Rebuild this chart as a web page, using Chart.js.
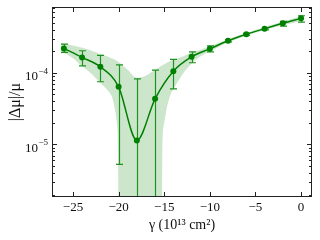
<!DOCTYPE html>
<html>
<head>
<meta charset="utf-8">
<script src="https://cdn.jsdelivr.net/npm/chart.js@4.4.1/dist/chart.umd.min.js"></script>
<style>
  html, body { margin: 0; padding: 0; background: #fff; }
  canvas { display: block; }
</style>
</head>
<body>
<canvas id="chart" width="320" height="240"></canvas>
<script>
        // Messpunkte
        const gammaVals = [-26, -24, -22, -20, -18, -16, -14, -12, -10, -8, -6, -4, -2, 0];
        const dmuVals   = [2.19e-4, 1.64e-4, 1.21e-4, 6.37e-5, 1.14e-5, 4.34e-5, 1.05e-4, 1.67e-4, 2.16e-4, 2.80e-4, 3.44e-4, 4.12e-4, 4.90e-4, 5.75e-4];
        const errHigh   = [2.51e-4, 2.03e-4, 1.75e-4, 1.29e-4, 8.25e-5, 1.09e-4, 1.54e-4, 1.96e-4, 2.38e-4, 2.90e-4, 3.55e-4, 4.28e-4, 5.23e-4, 6.25e-4];
        const errLow    = [1.93e-4, 1.25e-4, 7.5e-5, 5.26e-6, 1e-8, 1e-8, 5.98e-5, 1.38e-4, 1.96e-4, 2.70e-4, 3.33e-4, 3.96e-4, 4.49e-4, 5.10e-4];

        // Konfidenzband (Ober- und Unterkante)
        const bandX     = [-26.3, -25, -24, -23, -22, -21, -20.7, -20.4, -20.2, -20.05, -19.95, -19, -18, -17, -16, -15.35, -15.2, -15.0, -14.7, -14.3, -14, -13, -12, -11, -10, -8, -6, -4, -2, 0, 0.3];
        const bandUpper = [2.6e-4, 2.4e-4, 2.23e-4, 2.05e-4, 1.83e-4, 1.65e-4, 1.58e-4, 1.52e-4, 1.46e-4, 1.43e-4, 1.40e-4, 1.1e-4, 8.5e-5, 9.2e-5, 1.1e-4, 1.24e-4, 1.28e-4, 1.32e-4, 1.38e-4, 1.46e-4, 1.52e-4, 1.68e-4, 1.92e-4, 2.1e-4, 2.35e-4, 2.95e-4, 3.6e-4, 4.35e-4, 5.2e-4, 6.2e-4, 6.35e-4];
        const bandLower = [1.98e-4, 1.6e-4, 1.23e-4, 9.8e-5, 7.2e-5, 5.3e-5, 4.5e-5, 3.1e-5, 2.0e-5, 7e-6, 1e-8, 1e-8, 1e-8, 1e-8, 1e-8, 1e-8, 8e-6, 2.0e-5, 3.3e-5, 5.0e-5, 5.9e-5, 9.5e-5, 1.35e-4, 1.7e-4, 1.98e-4, 2.65e-4, 3.3e-4, 3.95e-4, 4.6e-4, 5.3e-4, 5.4e-4];

        // Achsen
        const xTickVals = [-25, -20, -15, -10, -5, 0];
        const yTickVals = [1e-5, 1e-4];
        const yTickExp  = ['\u22125', '\u22124'];

        const green = '#008000';
        const serif = 'Liberation Serif';

        // Fehlerbalken, Rahmen und Ticks nach innen
        const framePlugin = {
            id: 'framePlugin',
            beforeDatasetsDraw(chart) {
                const ctx = chart.ctx;
                const a = chart.chartArea;
                const xs = chart.scales.x, ys = chart.scales.y;
                ctx.save();
                ctx.beginPath();
                ctx.rect(a.left, a.top, a.right - a.left, a.bottom - a.top);
                ctx.clip();
                ctx.strokeStyle = '#1f911f';
                ctx.lineWidth = 1.2;
                gammaVals.forEach((g, i) => {
                    const px = Math.round(xs.getPixelForValue(g)) + 0.5;
                    const yh = ys.getPixelForValue(errHigh[i]);
                    const yl = ys.getPixelForValue(errLow[i]);
                    ctx.beginPath();
                    ctx.moveTo(px, yh);
                    ctx.lineTo(px, yl);
                    ctx.moveTo(px - 3.5, yh);
                    ctx.lineTo(px + 3.5, yh);
                    ctx.moveTo(px - 3.5, yl);
                    ctx.lineTo(px + 3.5, yl);
                    ctx.stroke();
                });
                ctx.restore();
            },
            afterDraw(chart) {
                const ctx = chart.ctx;
                const a = chart.chartArea;
                const xs = chart.scales.x, ys = chart.scales.y;
                ctx.save();
                ctx.strokeStyle = '#222';
                ctx.lineWidth = 1;
                ctx.strokeRect(Math.round(a.left) + 0.5, Math.round(a.top) + 0.5,
                               Math.round(a.right - a.left) - 1, Math.round(a.bottom - a.top) - 1);
                ctx.beginPath();
                xTickVals.forEach(v => {
                    const px = Math.round(xs.getPixelForValue(v)) + 0.5;
                    ctx.moveTo(px, a.bottom); ctx.lineTo(px, a.bottom - 5);
                    ctx.moveTo(px, a.top); ctx.lineTo(px, a.top + 5);
                });
                // Haupt- und Nebenticks der log-Achse
                for (let e = -6; e <= -3; e++) {
                    for (let m = 1; m <= 9; m++) {
                        const v = m * Math.pow(10, e);
                        if (v < ys.min || v > ys.max) continue;
                        const py = Math.round(ys.getPixelForValue(v)) + 0.5;
                        const len = m === 1 ? 5 : 3;
                        ctx.moveTo(a.left, py); ctx.lineTo(a.left + len, py);
                        ctx.moveTo(a.right, py); ctx.lineTo(a.right - len, py);
                    }
                }
                ctx.stroke();

                // y-Beschriftung 10^n
                ctx.fillStyle = '#111';
                ctx.textAlign = 'right';
                ctx.textBaseline = 'alphabetic';
                yTickVals.forEach((v, i) => {
                    const py = ys.getPixelForValue(v);
                    const xr = a.left - 4;
                    ctx.font = '9px "' + serif + '"';
                    const w = ctx.measureText(yTickExp[i]).width;
                    ctx.fillText(yTickExp[i], xr, py + 1);
                    ctx.font = '13px "' + serif + '"';
                    ctx.fillText('10', xr - w - 0.5, py + 7.5);
                });
                ctx.restore();
            }
        };

        function createChart() {
            const ctx = document.getElementById('chart').getContext('2d');
            return new Chart(ctx, {
                type: 'line',
                data: {
                    datasets: [{
                        data: gammaVals.map((g, i) => ({x: g, y: dmuVals[i]})),
                        borderColor: green,
                        borderWidth: 1.5,
                        pointRadius: 3,
                        pointBackgroundColor: green,
                        pointBorderWidth: 0,
                        cubicInterpolationMode: 'monotone',
                        fill: false,
                        order: 0
                    }, {
                        data: bandX.map((g, i) => ({x: g, y: bandUpper[i]})),
                        borderWidth: 0,
                        pointRadius: 0,
                        backgroundColor: 'rgba(0, 128, 0, 0.2)',
                        cubicInterpolationMode: 'monotone',
                        fill: '+1',
                        order: 1
                    }, {
                        data: bandX.map((g, i) => ({x: g, y: bandLower[i]})),
                        borderWidth: 0,
                        pointRadius: 0,
                        cubicInterpolationMode: 'monotone',
                        fill: false,
                        order: 2
                    }]
                },
                options: {
                    responsive: false,
                    animation: false,
                    events: [],
                    layout: { padding: { top: 7, right: 8, left: 0, bottom: 0 } },
                    plugins: {
                        legend: { display: false },
                        tooltip: { enabled: false },
                        filler: { drawTime: 'beforeDatasetsDraw' }
                    },
                    scales: {
                        x: {
                            type: 'linear',
                            min: -27.3,
                            max: 1.2,
                            grid: { display: false, drawTicks: false },
                            border: { display: false },
                            afterBuildTicks: scale => { scale.ticks = xTickVals.map(v => ({value: v})); },
                            afterFit: scale => { scale.height = 43; },
                            ticks: {
                                padding: 3,
                                color: '#111',
                                font: { family: serif, size: 13 },
                                callback: v => String(v).replace('-', '\u2212')
                            },
                            title: {
                                display: true,
                                text: '\u03b3 (10\u00b9\u00b3 cm\u00b2)',
                                color: '#111',
                                font: { family: serif, size: 14 },
                                padding: { top: 0, bottom: 6 }
                            }
                        },
                        y: {
                            type: 'logarithmic',
                            min: 1.85e-6,
                            max: 8.28e-4,
                            grid: { display: false, drawTicks: false },
                            border: { display: false },
                            afterBuildTicks: scale => { scale.ticks = yTickVals.map(v => ({value: v})); },
                            afterFit: scale => { scale.width = 52; },
                            ticks: { display: false },
                            title: {
                                display: true,
                                text: '|\u0394\u03bc|/\u03bc',
                                color: '#111',
                                font: { family: serif, size: 16 },
                                padding: { top: 6, bottom: 0 }
                            }
                        }
                    }
                },
                plugins: [framePlugin]
            });
        }

        window.onload = function () {
            createChart();
        };
</script>
</body>
</html>
